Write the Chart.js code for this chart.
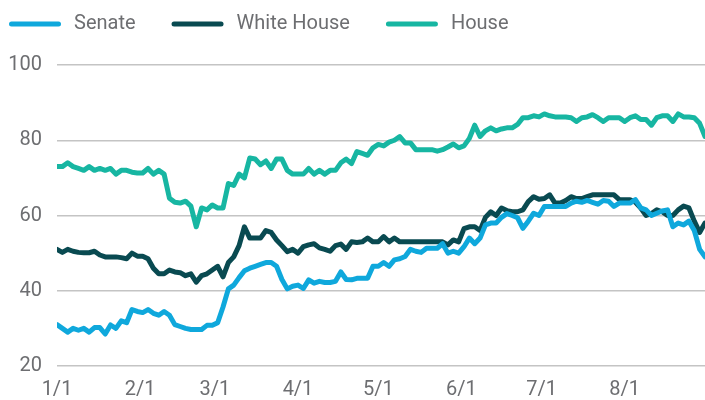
<!DOCTYPE html>
<html>
<head>
    <title>Approval by branch</title>
    <script src="https://cdn.jsdelivr.net/npm/chart.js"></script>
    <style>
        body {
            margin: 0;
            background-color: #ffffff;
        }

        .chart-box {
            width: 705px;
            height: 400px;
        }
    </style>
</head>
<body>
    <div class="chart-box">
        <canvas id="approvalChart"></canvas>
    </div>

    <script>
        // one value every 2 days, starting 1/1
        var dayStep = 2;
        var tickDays = [0, 31, 59, 90, 120, 151, 181, 212];
        var tickLabels = ['1/1', '2/1', '3/1', '4/1', '5/1', '6/1', '7/1', '8/1'];
        var seriesNames = ['Senate', 'White House', 'House'];
        var seriesColors = ['#0fa8dc', '#094a51', '#17b6a2'];

        var senate = [
            31, 30, 29, 30, 29.5, 30, 29, 30.2, 30.2, 28.5,
            30.9, 30, 32, 31.5, 35, 34.5, 34.2, 35, 34, 33.5,
            34.5, 33.5, 31, 30.5, 30, 29.7, 29.7, 29.7, 30.8, 30.8,
            31.5, 35.7, 40.5, 41.5, 43.5, 45.3, 46, 46.5, 47, 47.5,
            47.5, 46.5, 43, 40.5, 41.2, 41.5, 40.6, 42.9, 42, 42.5,
            42.2, 42.2, 42.5, 45, 43, 42.9, 43.3, 43.3, 43.3, 46.5,
            46.5, 47.5, 46.5, 48.2, 48.5, 49.1, 51, 50.5, 50.2, 51.3,
            51.3, 51.3, 52.5, 50, 50.5, 50, 51.7, 54, 52.5, 54,
            57.5, 58, 58, 59.5, 60.5, 60, 59.4, 56.6, 58.5, 60.6,
            60, 62.4, 62.4, 62.4, 62.4, 62.4, 63.3, 63.8, 63.5, 64,
            63.5, 63, 64, 63.8, 62.4, 63.3, 63.3, 63.3, 64.2, 62,
            61.5, 60, 60.6, 61.2, 61.5, 57, 58, 57.5, 58.5, 56,
            51, 49
        ];
        var whiteHouse = [
            51, 50.2, 51, 50.5, 50.2, 50.1, 50.1, 50.5, 49.5, 49,
            49, 49, 48.8, 48.5, 50, 49.2, 49.2, 48.5, 46, 44.5,
            44.5, 45.5, 45, 44.8, 44, 44.5, 42.3, 44, 44.5, 45.5,
            46.5, 43.7, 47.5, 49, 52, 57, 54, 54, 54, 56,
            55.5, 53.5, 52, 50.4, 51, 50, 51.7, 52.2, 52.5, 51.4,
            51, 50.5, 52, 52.4, 51, 53, 52.8, 53, 54, 53,
            53, 54.4, 53, 54, 53, 53, 53, 53, 53, 53,
            53, 53, 53, 52.2, 53.5, 53, 56.5, 57, 57, 56,
            59.5, 61, 60, 62, 61.3, 61, 61, 61.5, 63.7, 65,
            64.3, 64.5, 65.5, 63.3, 63.3, 64, 65, 64.5, 64.5, 65,
            65.5, 65.5, 65.5, 65.5, 65.5, 64.2, 64.2, 64.2, 63.5, 62,
            60, 60.5, 61.5, 61, 60, 60, 61.5, 62.5, 62, 58.5,
            55.5, 58
        ];
        var house = [
            73, 73, 74, 73, 72.5, 72, 73, 72, 72.5, 72,
            72.5, 71, 72, 72, 71.5, 71.3, 71.3, 72.5, 71, 72,
            71, 64.6, 63.5, 63.3, 63.8, 62.5, 57, 62, 61.5, 62.8,
            62, 62, 68.5, 68, 71, 70, 75.3, 75, 73.5, 74.5,
            72.5, 75, 75, 72, 71, 71, 71, 72.5, 71, 72,
            71, 72, 72, 74, 75, 73.8, 77, 76.5, 76, 78,
            78.9, 78.5, 79.5, 80, 81, 79.3, 79.3, 77.5, 77.5, 77.5,
            77.5, 77.1, 77.5, 78.2, 79, 78, 78.5, 80.5, 84, 81,
            82.5, 83.3, 82.5, 83, 83.3, 83.3, 84.2, 86, 86, 86.5,
            86.2, 87, 86.5, 86.2, 86.2, 86.2, 86, 85, 86, 86.2,
            86.8, 86, 85, 86, 86, 86, 85, 86, 86.5, 85.5,
            85.5, 84, 86, 86.5, 86.5, 85, 87, 86.2, 86.2, 86,
            84.5, 81
        ];

        function toPoints(values) {
            return values.map(function (v, i) {
                return { x: i * dayStep, y: v };
            });
        }

        // legend drawn as thick rounded lines + text, like the original
        var lineLegend = {
            id: 'lineLegend',
            afterDraw: function (chart) {
                var ctx = chart.ctx;
                var x = 11.5;
                var y = 24;
                ctx.save();
                ctx.font = '20px Roboto';
                ctx.textBaseline = 'middle';
                chart.data.datasets.forEach(function (ds) {
                    ctx.strokeStyle = ds.borderColor;
                    ctx.lineWidth = 5;
                    ctx.lineCap = 'round';
                    ctx.beginPath();
                    ctx.moveTo(x, y);
                    ctx.lineTo(x + 47, y);
                    ctx.stroke();
                    var tx = x + 47 + 15.5;
                    ctx.fillStyle = '#6d6e71';
                    ctx.fillText(ds.label, tx, y);
                    x = tx + ctx.measureText(ds.label).width + 38.5;
                });
                ctx.restore();
            }
        };

        Chart.defaults.font.family = 'Roboto';
        Chart.defaults.font.size = 20;
        Chart.defaults.color = '#6d6e71';

        var datasets = [senate, whiteHouse, house].map(function (values, i) {
            return {
                label: seriesNames[i],
                data: toPoints(values),
                borderColor: seriesColors[i],
                backgroundColor: seriesColors[i],
                borderWidth: 5,
                pointRadius: 0,
                borderJoinStyle: 'round',
                borderCapStyle: 'round',
                tension: 0
            };
        });

        var approvalChart = new Chart(document.getElementById('approvalChart').getContext('2d'), {
            type: 'line',
            data: { datasets: datasets },
            options: {
                responsive: true,
                maintainAspectRatio: false,
                animation: false,
                layout: {
                    padding: { top: 65, left: 8, right: 0, bottom: 0 }
                },
                plugins: {
                    legend: { display: false },
                    tooltip: { enabled: false }
                },
                scales: {
                    x: {
                        type: 'linear',
                        min: 0,
                        max: (senate.length - 1) * dayStep,
                        afterBuildTicks: function (scale) {
                            scale.ticks = tickDays.map(function (d) { return { value: d }; });
                        },
                        afterFit: function (scale) {
                            scale.height = 34;
                        },
                        grid: { display: false, drawTicks: false },
                        border: { display: false },
                        ticks: {
                            padding: 14,
                            font: { size: 20, lineHeight: 1 },
                            autoSkip: false,
                            maxRotation: 0,
                            callback: function (value) {
                                var k = tickDays.indexOf(value);
                                return k >= 0 ? tickLabels[k] : '';
                            }
                        }
                    },
                    y: {
                        min: 20,
                        max: 100,
                        afterFit: function (scale) {
                            scale.width = 49;
                        },
                        grid: { color: '#c4c4c4', lineWidth: 1.5, drawTicks: false },
                        border: { display: false },
                        ticks: {
                            stepSize: 20,
                            padding: 15
                        }
                    }
                }
            },
            plugins: [lineLegend]
        });
    </script>
</body>
</html>
